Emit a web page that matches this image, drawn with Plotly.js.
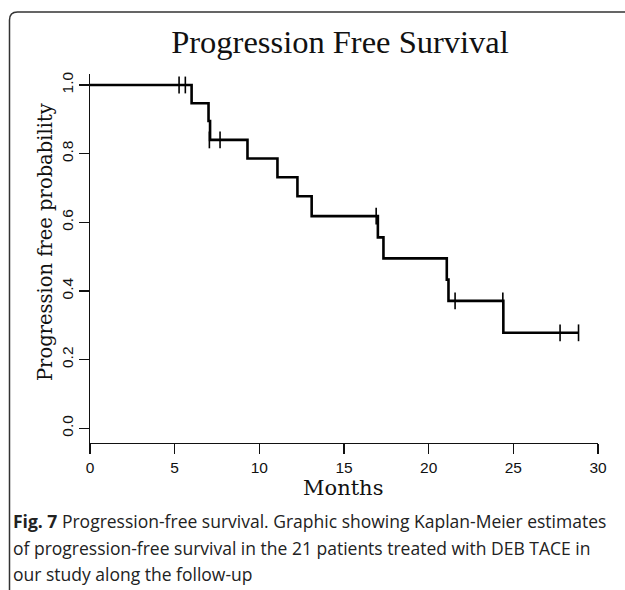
<!DOCTYPE html>
<html>
<head>
<meta charset="utf-8">
<script src="https://cdn.plot.ly/plotly-3.0.1.min.js"></script>
<style>html,body{margin:0;padding:0;background:#fff;}#chart{width:625px;height:590px;}</style>
</head>
<body>
<div id="chart"></div>
<script>
// Kaplan-Meier step curve (time in months, survival probability)
var stepTimes    = [0, 6.0, 7.0, 7.09, 9.3, 11.07, 12.25, 13.09, 17.0, 17.33, 21.07, 21.17, 24.41, 28.85];
var stepSurvival = [1.0, 0.947, 0.895, 0.840, 0.786, 0.731, 0.676, 0.618, 0.556, 0.495, 0.433, 0.371, 0.278, 0.278];
// Censored observations
var censorTimes    = [5.26, 5.63, 7.05, 7.68, 16.9, 21.56, 24.38, 27.76, 28.85];
var censorSurvival = [1.0, 1.0, 0.840, 0.840, 0.618, 0.371, 0.371, 0.278, 0.278];
// Axis ticks
var xTicks = [0, 5, 10, 15, 20, 25, 30];
var yTicks = [0.0, 0.2, 0.4, 0.6, 0.8, 1.0];
var yTickLabels = ['0.0', '0.2', '0.4', '0.6', '0.8', '1.0'];

var W = 625, H = 590;
var L = 90, R = 27, T = 74, B = 147;
var pw = W - L - R, ph = H - T - B;
function px(x) { return (x - L) / pw; }
function py(y) { return (H - B - y) / ph; }

var traces = [
  {x: stepTimes, y: stepSurvival, type: 'scatter', mode: 'lines',
   line: {shape: 'hv', color: '#000', width: 2.6}, hoverinfo: 'skip', showlegend: false},
  {x: censorTimes, y: censorSurvival, type: 'scatter', mode: 'markers',
   marker: {symbol: 'line-ns', size: 12, line: {color: '#000', width: 1.6}},
   hoverinfo: 'skip', showlegend: false}
];

var rx = 8 / pw, ry = 8 / ph;
var xl = px(9.5), yt = py(12), xr = px(625), yb = py(592);
var borderPath = 'M' + xl + ',' + yb + ' L' + xl + ',' + (yt - ry) +
  ' Q' + xl + ',' + yt + ' ' + (xl + rx) + ',' + yt + ' L' + xr + ',' + yt;

var capFont = {family: '"Open Sans", sans-serif', size: 17.5, color: '#222'};
var tickFont = {family: '"Liberation Sans", Arial, sans-serif', size: 15.5, color: '#111'};

var layout = {
  width: W, height: H,
  margin: {l: L, r: R, t: T, b: B, pad: 0},
  paper_bgcolor: '#fff', plot_bgcolor: '#fff',
  title: {text: 'Progression Free Survival', font: {family: '"Liberation Serif", serif', size: 32.5, color: '#111'},
          x: 340 / W, xref: 'container', xanchor: 'center', y: 1 - 42 / H, yref: 'container', yanchor: 'middle'},
  xaxis: {range: [0, 30], tickvals: xTicks, ticktext: xTicks.map(String), showgrid: false, zeroline: false,
          showline: true, linecolor: '#111', linewidth: 1.3, ticks: 'outside', ticklen: 10, tickwidth: 1.3,
          tickcolor: '#111', tickfont: tickFont, fixedrange: true},
  yaxis: {range: [-0.043, 1.032], tickvals: yTicks, ticktext: yTickLabels, tickangle: -90, showgrid: false,
          zeroline: false, showline: true, linecolor: '#111', linewidth: 1.3, ticks: 'outside', ticklen: 10,
          tickwidth: 1.3, tickcolor: '#111', tickfont: tickFont, fixedrange: true},
  shapes: [{type: 'path', xref: 'paper', yref: 'paper', path: borderPath, line: {color: '#333', width: 1.5}}],
  annotations: [
    {text: 'Progression free probability', textangle: -90, xref: 'paper', yref: 'paper', x: px(45), y: py(242),
     xanchor: 'center', yanchor: 'middle', showarrow: false,
     font: {family: '"DejaVu Serif", serif', size: 19.5, color: '#111'}},
    {text: 'Months', xref: 'paper', yref: 'paper', x: px(343), y: py(488), xanchor: 'center', yanchor: 'middle',
     showarrow: false, font: {family: '"DejaVu Serif", serif', size: 21, color: '#111'}},
    {text: '<b>Fig. 7</b> Progression-free survival. Graphic showing Kaplan-Meier estimates', xref: 'paper', yref: 'paper',
     x: px(11), y: py(521), xanchor: 'left', yanchor: 'middle', showarrow: false, font: capFont},
    {text: 'of progression-free survival in the 21 patients treated with DEB TACE in', xref: 'paper', yref: 'paper',
     x: px(11), y: py(548), xanchor: 'left', yanchor: 'middle', showarrow: false, font: capFont},
    {text: 'our study along the follow-up', xref: 'paper', yref: 'paper',
     x: px(11), y: py(574), xanchor: 'left', yanchor: 'middle', showarrow: false, font: capFont}
  ]
};

Plotly.newPlot('chart', traces, layout, {displayModeBar: false, staticPlot: true});
</script>
</body>
</html>
